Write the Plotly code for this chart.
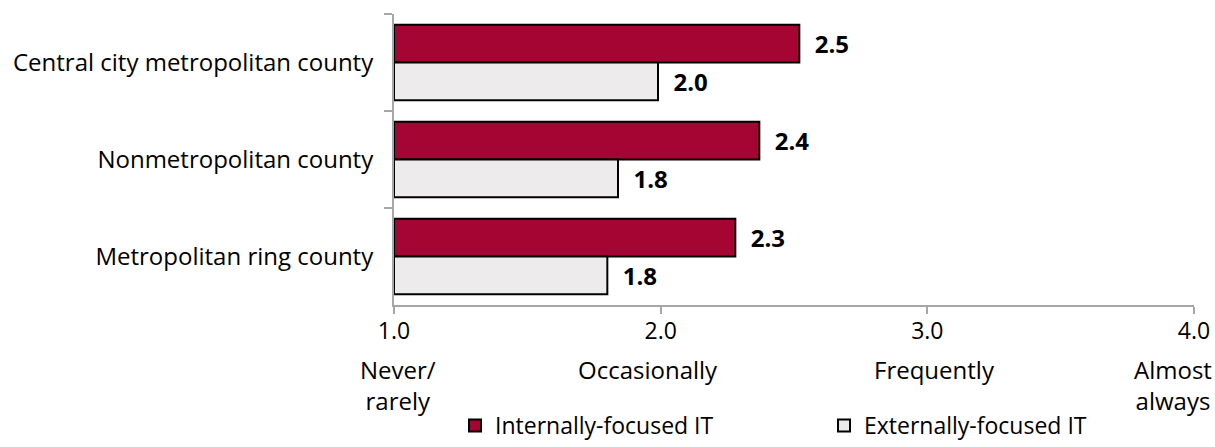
import plotly.graph_objects as go

categories = ["Central city metropolitan county", "Nonmetropolitan county", "Metropolitan ring county"]
internal_vals = [2.52, 2.37, 2.28]
external_vals = [1.99, 1.84, 1.80]
series_names = ["Internally-focused IT", "Externally-focused IT"]
tick_vals = [1, 2, 3, 4]
tick_text = ["1.0", "2.0", "3.0", "4.0"]
scale_labels = ["Never/<br>rarely", "Occasionally", "Frequently", "Almost<br>always"]

FONT = "Open Sans, Liberation Sans, Arial, sans-serif"
RED = "#A50533"
GRAY = "#EDEBEB"
BASE = 1

fig = go.Figure()
for name, vals, col in [(series_names[0], internal_vals, RED), (series_names[1], external_vals, GRAY)]:
    fig.add_trace(go.Bar(
        y=categories, x=[v - BASE for v in vals], base=BASE, orientation="h", name=name,
        marker=dict(color=col, line=dict(color="black", width=2)),
        text=[f"\u00a0\u00a0{v:.1f}" for v in vals],
        textposition="outside", cliponaxis=False,
        textfont=dict(family=FONT, size=24, color="black", weight="bold"),
    ))

shifts = [4, -13, 7, -21]
for xv, lab, sh in zip(tick_vals, scale_labels, shifts):
    fig.add_annotation(x=xv, xref="x", y=-0.158, yref="paper", text=lab, showarrow=False,
                       xanchor="center", yanchor="top", xshift=sh,
                       font=dict(family=FONT, size=24, color="black"), align="center")

fig.update_layout(
    width=1215, height=447,
    margin=dict(l=394, r=21, t=14, b=142, autoexpand=False),
    paper_bgcolor="white", plot_bgcolor="white",
    barmode="group", bargap=0.22, bargroupgap=0,
    font=dict(family=FONT, size=24, color="black"),
    showlegend=True,
    legend=dict(orientation="h", xref="container", x=0.3745, xanchor="left",
                yref="container", y=0.0, yanchor="bottom",
                font=dict(family=FONT, size=23), entrywidth=324, traceorder="normal",
                bgcolor="rgba(0,0,0,0)"),
    xaxis=dict(range=[1, 4], tickvals=tick_vals, ticktext=tick_text, showgrid=False, zeroline=False,
               showline=True, linecolor="#A6A6A6", linewidth=2, ticks="outside", ticklen=7,
               tickcolor="#A6A6A6", tickwidth=2, tickfont=dict(family=FONT, size=23),
               ticklabelstandoff=-3, automargin=False),
    yaxis=dict(autorange="reversed", showgrid=False, zeroline=False, showline=True,
               linecolor="#A6A6A6", linewidth=2, ticks="outside", ticklen=8, tickson="boundaries",
               tickcolor="#A6A6A6", tickwidth=2, tickfont=dict(family=FONT, size=24),
               ticklabelstandoff=14, automargin=False),
)
fig.write_html("out.html", config={"displayModeBar": False},
               post_script="document.body.style.margin='0';document.body.style.overflow='hidden';")
